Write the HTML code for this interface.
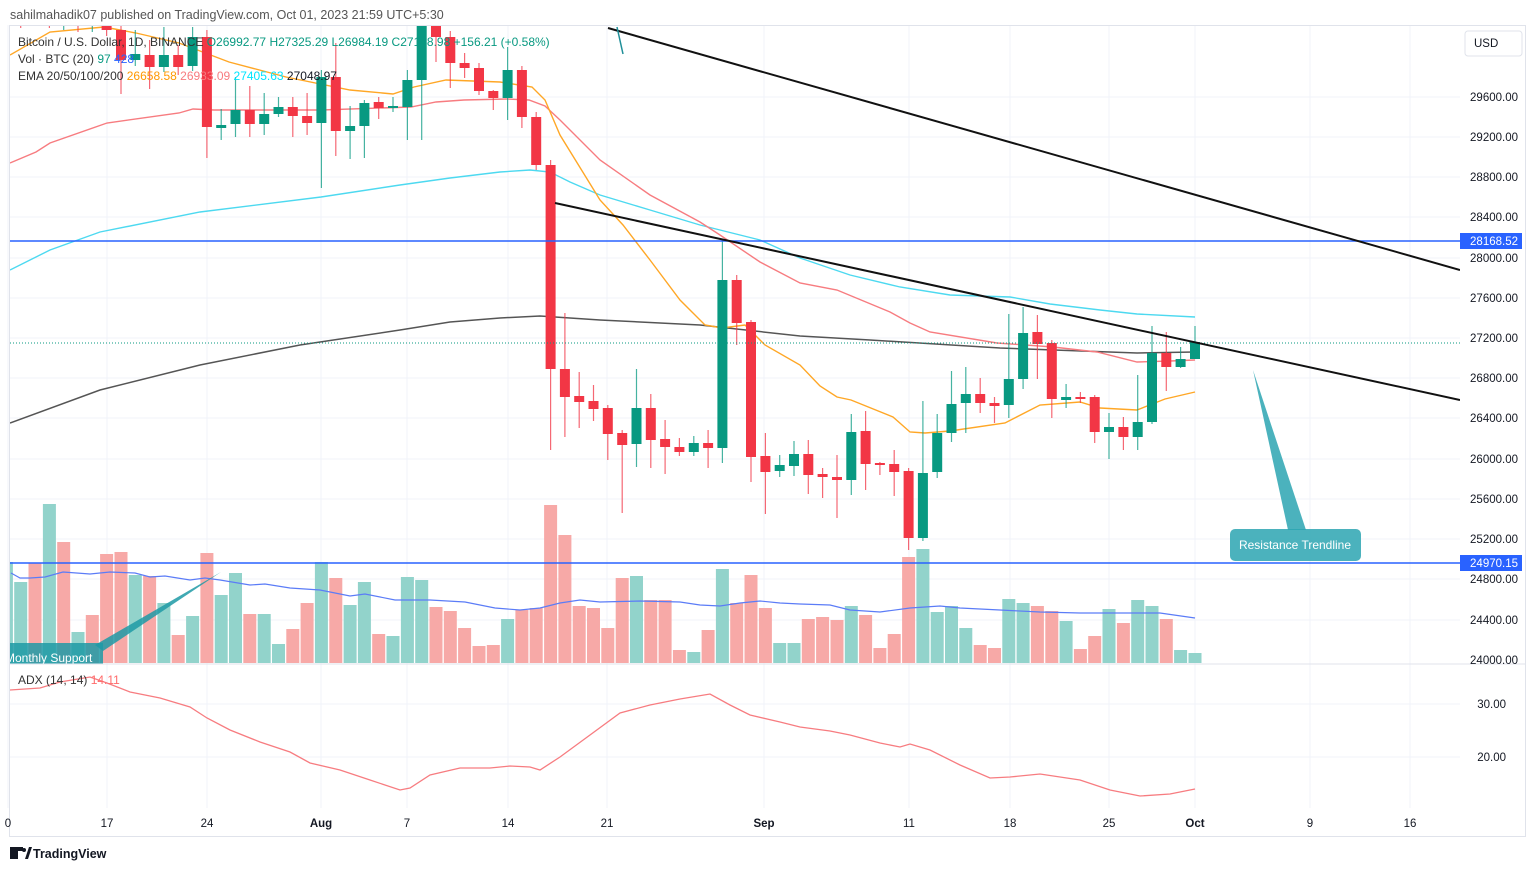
<!DOCTYPE html>
<html><head><meta charset="utf-8"><style>
html,body{margin:0;padding:0;background:#fff;width:1536px;height:871px;overflow:hidden}
svg{display:block;font-family:"Liberation Sans",sans-serif}
</style></head><body>
<svg width="1536" height="871" viewBox="0 0 1536 871" xmlns="http://www.w3.org/2000/svg">
<defs>
<clipPath id="cm"><rect x="10" y="25" width="1450" height="639"/></clipPath>
<clipPath id="ca"><rect x="10" y="665" width="1450" height="143"/></clipPath>
</defs>
<rect x="0" y="0" width="1536" height="871" fill="#fff"/>
<text x="10" y="19" font-size="12.5" fill="#555">sahilmahadik07 published on TradingView.com, Oct 01, 2023 21:59 UTC+5:30</text>
<path stroke="#f0f3fa" stroke-width="1" fill="none" d="M8 25V808M107 25V808M207 25V808M321 25V808M407 25V808M508 25V808M607 25V808M764 25V808M909 25V808M1010 25V808M1109 25V808M1195 25V808M1310 25V808M1410 25V808M10 97H1460M10 137H1460M10 177H1460M10 217H1460M10 258H1460M10 298H1460M10 338H1460M10 378H1460M10 418H1460M10 459H1460M10 499H1460M10 539H1460M10 579H1460M10 620H1460M10 704H1460M10 757H1460"/>
<g clip-path="url(#cm)">
<path fill="#92d3cb" d="M-0.1 562h13V663h-13zM14.2 582h13V663h-13zM42.9 504h13V663h-13zM71.5 632h13V663h-13zM128.8 575h13V663h-13zM157.4 603h13V663h-13zM186.1 616h13V663h-13zM214.7 595h13V663h-13zM229.0 573h13V663h-13zM257.7 614h13V663h-13zM272.0 644h13V663h-13zM314.9 562h13V663h-13zM343.6 605h13V663h-13zM357.9 582h13V663h-13zM386.5 636h13V663h-13zM400.9 577h13V663h-13zM415.2 580h13V663h-13zM501.1 619h13V663h-13zM630.0 576h13V663h-13zM687.3 652h13V663h-13zM715.9 569h13V663h-13zM773.2 643h13V663h-13zM787.5 643h13V663h-13zM844.8 606h13V663h-13zM916.4 549h13V663h-13zM930.7 612h13V663h-13zM945.0 606h13V663h-13zM959.3 628h13V663h-13zM1002.3 599h13V663h-13zM1016.6 603h13V663h-13zM1059.6 621h13V663h-13zM1102.5 609h13V663h-13zM1131.2 600h13V663h-13zM1145.5 606h13V663h-13zM1174.1 650h13V663h-13zM1188.5 653h13V663h-13z"/>
<path fill="#f7a9a7" d="M28.5 563h13V663h-13zM57.2 542h13V663h-13zM85.8 615h13V663h-13zM100.1 554h13V663h-13zM114.5 552h13V663h-13zM143.1 576h13V663h-13zM171.7 635h13V663h-13zM200.4 553h13V663h-13zM243.3 614h13V663h-13zM286.3 629h13V663h-13zM300.6 603h13V663h-13zM329.3 578h13V663h-13zM372.2 634h13V663h-13zM429.5 607h13V663h-13zM443.8 611h13V663h-13zM458.1 628h13V663h-13zM472.5 646h13V663h-13zM486.8 645h13V663h-13zM515.4 610h13V663h-13zM529.7 608h13V663h-13zM544.1 505h13V663h-13zM558.4 535h13V663h-13zM572.7 606h13V663h-13zM587.0 608h13V663h-13zM601.3 628h13V663h-13zM615.7 578h13V663h-13zM644.3 600h13V663h-13zM658.6 600h13V663h-13zM672.9 650h13V663h-13zM701.6 630h13V663h-13zM730.2 603h13V663h-13zM744.5 575h13V663h-13zM758.9 608h13V663h-13zM801.8 619h13V663h-13zM816.1 617h13V663h-13zM830.5 620h13V663h-13zM859.1 615h13V663h-13zM873.4 648h13V663h-13zM887.7 634h13V663h-13zM902.1 557h13V663h-13zM973.7 645h13V663h-13zM988.0 648h13V663h-13zM1030.9 606h13V663h-13zM1045.3 611h13V663h-13zM1073.9 649h13V663h-13zM1088.2 636h13V663h-13zM1116.9 623h13V663h-13zM1159.8 619h13V663h-13z"/>
<g fill="none">
<polyline stroke="#5b7cf7" stroke-width="1.2" points="11,573 20,578 30,578 45,577 63,572 90,574 110,572 135,573 150,577 165,576 190,580 205,578 220,580 250,585 265,584 290,588 320,590 350,596 365,594 395,600 430,600 465,602 495,608 520,610 540,608 560,603 580,600 600,602 640,601 680,602 700,605 720,606 740,603 760,601 780,603 800,604 830,605 850,610 880,612 910,608 940,606 960,608 1000,610 1040,612 1080,613 1120,613 1160,613 1195,618"/>
<polyline stroke="#555" stroke-width="1.5" points="10,423 100,390 200,365 300,345 400,330 450,322 500,318 540,316 600,320 700,325 800,336 870,340 1000,348 1137,353 1195,352"/>
<polyline stroke="#4dd9f0" stroke-width="1.4" points="10,270 50,250 100,232 200,212 321,197 400,185 450,178 500,172 530,170 550,172 570,182 600,195 650,210 700,225 720,230 760,240 800,258 850,275 900,287 950,295 1010,297 1050,304 1100,310 1137,314 1195,317"/>
<polyline stroke="#f77c80" stroke-width="1.4" points="10,163 36,152 50,143 107,123 179,113 193,109 214,110 321,110 411,107 436,102 464,100 507,99 529,100 545,106 560,120 600,160 650,195 700,222 720,235 760,262 800,283 837,290 890,312 910,323 930,332 997,343 1053,347 1097,352 1137,362 1170,361 1195,360"/>
<polyline stroke="#ffa726" stroke-width="1.4" points="10,55 50,32 104,27 136,33 179,43 229,62 286,77 350,90 393,94 414,87 446,80 500,82 532,87 545,100 560,135 600,200 623,225 650,260 680,300 705,325 722,328 745,325 765,345 800,365 820,386 837,397 851,400 893,417 910,432 925,433 950,431 1005,423 1040,405 1080,402 1100,408 1137,410 1165,399 1195,392"/>
</g>
<path stroke="#089981" stroke-width="1.2" opacity="0.75" fill="none" d="M6.4 8V30M35.0 8V26M63.7 6V30M92.3 10V32M135.3 30V66M163.9 27V72M192.6 27V71M221.2 109V140M235.5 77V137M264.2 93V135M278.5 97V117M321.4 70V188M350.1 106V159M364.4 100V158M393.0 97V112M407.4 70V140M421.7 15V140M507.6 47V120M636.5 369V467M693.8 436V456M722.4 239V463M779.7 455V477M794.0 441V476M851.3 414V495M922.9 401V541M937.2 414V478M951.5 371V442M965.8 367V433M1008.8 314V418M1023.1 307V389M1066.1 384V408M1109.0 413V459M1137.7 375V450M1152.0 326V424M1180.6 347V368M1195.0 326V359"/>
<path fill="#089981" d="M1.4 14h10V22h-10zM30.0 14h10V20h-10zM58.7 12h10V20h-10zM87.3 16h10V24h-10zM130.3 54h10V60h-10zM158.9 55h10V67h-10zM187.6 37h10V66h-10zM216.2 125h10V128h-10zM230.5 110h10V124h-10zM259.2 114h10V124h-10zM273.5 107h10V114h-10zM316.4 77h10V123h-10zM345.1 126h10V131h-10zM359.4 103h10V126h-10zM388.0 106h10V108h-10zM402.4 80h10V107h-10zM416.7 20h10V80h-10zM502.6 70h10V98h-10zM631.5 408h10V444h-10zM688.8 443h10V452h-10zM717.4 280h10V448h-10zM774.7 465h10V471h-10zM789.0 454h10V466h-10zM846.3 432h10V480h-10zM917.9 473h10V538h-10zM932.2 433h10V472h-10zM946.5 404h10V433h-10zM960.8 394h10V403h-10zM1003.8 379h10V405h-10zM1018.1 333h10V379h-10zM1061.1 397h10V400h-10zM1104.0 427h10V432h-10zM1132.7 422h10V437h-10zM1147.0 353h10V422h-10zM1175.6 359h10V367h-10zM1190.0 342h10V359h-10z"/>
<path stroke="#f23645" stroke-width="1.2" opacity="0.75" fill="none" d="M20.7 6V28M49.4 4V28M78.0 8V32M106.6 14V36M121.0 20V94M149.6 40V89M178.2 45V75M206.9 30V158M249.8 86V137M292.8 97V137M307.1 93V135M335.8 43V156M378.7 97V119M436.0 15V62M450.3 31V88M464.6 53V78M479.0 63V95M493.3 90V110M521.9 66V128M536.2 112V170M550.6 160V450M564.9 313V437M579.2 372V428M593.5 385V421M607.8 405V460M622.2 430V513M650.8 394V468M665.1 420V474M679.4 438V456M708.1 430V468M736.7 275V345M751.0 320V482M765.4 433V514M808.3 440V494M822.6 468V498M837.0 455V518M865.6 411V490M879.9 462V475M894.2 450V496M908.6 468V550M980.2 378V413M994.5 397V423M1037.4 315V379M1051.8 340V418M1080.4 392V403M1094.7 395V443M1123.4 417V450M1166.3 332V391"/>
<path fill="#f23645" d="M15.7 12h10V20h-10zM44.4 10h10V18h-10zM73.0 14h10V22h-10zM101.6 20h10V30h-10zM116.0 30h10V60h-10zM144.6 55h10V67h-10zM173.2 55h10V67h-10zM201.9 37h10V127h-10zM244.8 110h10V124h-10zM287.8 107h10V116h-10zM302.1 116h10V123h-10zM330.8 77h10V131h-10zM373.7 102h10V108h-10zM431.0 20h10V37h-10zM445.3 37h10V63h-10zM459.6 63h10V68h-10zM474.0 68h10V91h-10zM488.3 91h10V98h-10zM516.9 70h10V117h-10zM531.2 117h10V165h-10zM545.6 165h10V369h-10zM559.9 369h10V397h-10zM574.2 396h10V402h-10zM588.5 401h10V409h-10zM602.8 408h10V434h-10zM617.2 433h10V445h-10zM645.8 408h10V440h-10zM660.1 439h10V447h-10zM674.4 447h10V452h-10zM703.1 443h10V448h-10zM731.7 280h10V323h-10zM746.0 322h10V457h-10zM760.4 456h10V472h-10zM803.3 454h10V475h-10zM817.6 474h10V477h-10zM832.0 477h10V480h-10zM860.6 431h10V464h-10zM874.9 463h10V465h-10zM889.2 464h10V472h-10zM903.6 471h10V538h-10zM975.2 394h10V403h-10zM989.5 403h10V406h-10zM1032.4 332h10V344h-10zM1046.8 343h10V399h-10zM1075.4 397h10V399h-10zM1089.7 397h10V432h-10zM1118.4 427h10V437h-10zM1161.3 353h10V367h-10z"/>
<line x1="10" y1="343" x2="1460" y2="343" stroke="#089981" stroke-width="1" stroke-dasharray="1,2"/>
<line x1="10" y1="241" x2="1460" y2="241" stroke="#2962ff" stroke-width="1.5"/>
<line x1="10" y1="563" x2="1460" y2="563" stroke="#2962ff" stroke-width="1.5"/>
<line x1="608" y1="28" x2="1460" y2="270" stroke="#111" stroke-width="2"/>
<line x1="555" y1="203" x2="1460" y2="400" stroke="#111" stroke-width="2"/>
<line x1="617" y1="27" x2="623" y2="54" stroke="#1f8f99" stroke-width="1.5"/>
<polygon points="1288,530 1306,530 1253,370" fill="#2ba4b1" opacity="0.85"/>
<rect x="1230" y="529" width="131" height="32" rx="5" fill="#2ba4b1" opacity="0.85"/>
<text x="1295" y="549" font-size="12" fill="#fff" text-anchor="middle">Resistance Trendline</text>
<polygon points="95,645 103,651 221,572" fill="#1f9aa6" opacity="0.85"/>
<rect x="0" y="643" width="103" height="21" fill="#1f9aa6" opacity="0.85"/>
<text x="5" y="662" font-size="12" fill="#fff">Monthly Support</text>
</g>
<polyline clip-path="url(#ca)" fill="none" stroke="#f77c80" stroke-width="1.3" points="10,690 40,688 60,682 90,677 107,683 130,692 160,698 190,707 207,718 230,730 260,742 290,752 310,763 340,770 370,780 400,790 410,788 430,775 460,768 490,768 510,766 530,767 540,770 560,757 590,735 620,713 650,705 680,699 710,694 730,705 750,715 780,722 800,727 830,731 850,735 880,743 900,747 910,744 930,750 960,765 990,778 1010,777 1040,774 1080,780 1110,790 1140,796 1170,794 1195,789"/>
<line x1="10" y1="664" x2="1525" y2="664" stroke="#e0e3eb"/>
<rect x="9.5" y="25.5" width="1516" height="811" fill="none" stroke="#e0e3eb"/>
<g font-size="12" fill="#131722">
<text x="18" y="46"><tspan fill="#333">Bitcoin / U.S. Dollar, 1D, BINANCE</tspan><tspan fill="#089981">  O26992.77  H27325.29  L26984.19  C27148.98 +156.21 (+0.58%)</tspan></text>
<text x="18" y="63"><tspan fill="#333">Vol · BTC (20)</tspan><tspan fill="#089981">  97</tspan><tspan fill="#2962ff">  428</tspan></text>
<text x="18" y="80"><tspan fill="#333">EMA 20/50/100/200</tspan><tspan fill="#ff9800">  26658.58</tspan><tspan fill="#f77c80">  26933.09</tspan><tspan fill="#00e5ff">  27405.63</tspan><tspan fill="#131722">  27048.97</tspan></text>
<text x="18" y="684"><tspan fill="#333">ADX (14, 14)</tspan><tspan fill="#ff6b6b">  14.11</tspan></text>
</g>
<g font-size="11.5" fill="#131722" text-anchor="end">
<text x="1518" y="101">29600.00</text><text x="1518" y="141">29200.00</text><text x="1518" y="181">28800.00</text>
<text x="1518" y="221">28400.00</text><text x="1518" y="262">28000.00</text><text x="1518" y="302">27600.00</text>
<text x="1518" y="342">27200.00</text><text x="1518" y="382">26800.00</text><text x="1518" y="422">26400.00</text>
<text x="1518" y="463">26000.00</text><text x="1518" y="503">25600.00</text><text x="1518" y="543">25200.00</text>
<text x="1518" y="583">24800.00</text><text x="1518" y="624">24400.00</text><text x="1518" y="664">24000.00</text>
<text x="1506" y="708">30.00</text><text x="1506" y="761">20.00</text>
</g>
<rect x="1465" y="31" width="57" height="25" rx="3" fill="#fff" stroke="#e0e3eb"/>
<text x="1474" y="47" font-size="11.5" fill="#131722">USD</text>
<rect x="1460" y="233" width="62" height="16" fill="#2962ff"/>
<text x="1518" y="245" font-size="11.5" fill="#fff" text-anchor="end">28168.52</text>
<rect x="1460" y="555" width="62" height="16" fill="#2962ff"/>
<text x="1518" y="567" font-size="11.5" fill="#fff" text-anchor="end">24970.15</text>
<g font-size="11.5" fill="#131722" text-anchor="middle">
<text x="8" y="827">0</text><text x="107" y="827">17</text><text x="207" y="827">24</text>
<text x="321" y="827" font-weight="bold">Aug</text><text x="407" y="827">7</text><text x="508" y="827">14</text>
<text x="607" y="827">21</text><text x="764" y="827" font-weight="bold">Sep</text><text x="909" y="827">11</text>
<text x="1010" y="827">18</text><text x="1109" y="827">25</text><text x="1195" y="827" font-weight="bold">Oct</text>
<text x="1310" y="827">9</text><text x="1410" y="827">16</text>
</g>
<g transform="translate(10,847)"><rect x="0" y="0" width="8" height="12" fill="#131722"/><rect x="5" y="0" width="8" height="4" fill="#131722"/><circle cx="14" cy="3" r="2" fill="#131722"/><polygon points="15,12 19,0 22,0 18,12" fill="#131722"/></g>
<text x="33" y="858" font-size="12.5" font-weight="bold" fill="#131722">TradingView</text>
</svg>
</body></html>
